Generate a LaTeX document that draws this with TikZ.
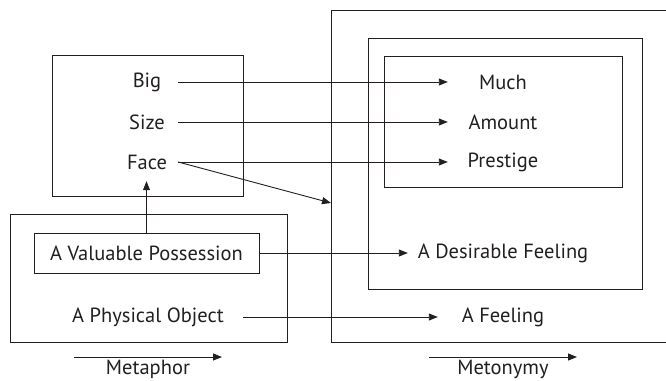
\documentclass[tikz,border=0pt]{standalone}
\usepackage{fontspec}
\setmainfont{PT Sans}
\usetikzlibrary{arrows.meta}
\definecolor{ink}{RGB}{35,31,32}
\begin{document}
\begin{tikzpicture}[x=1pt,y=-1pt,
  box/.style={draw=ink, line width=0.9pt},
  lbl/.style={font=\fontsize{20.5}{23}\selectfont, text=ink, inner sep=0pt},
  arr/.style={draw=ink, line width=0.9pt, -{Triangle[length=9pt,width=7pt]}}]
\useasboundingbox (0,0) rectangle (666,380);
% boxes
\draw[box] (52,55) rectangle (243,196);
\draw[box] (10,214) rectangle (287,342);
\draw[box] (666,10) -- (331,10) -- (331,342) -- (666,342);
\draw[box] (368,38) rectangle (642,289);
\draw[box] (384,56) rectangle (622,187);
\node[box, minimum width=225pt, minimum height=40pt, inner sep=0pt, font=\fontsize{20.5}{23}\selectfont, text=ink] (vp) at (146.5,253) {A Valuable Possession};
\coordinate (outerL) at (331,203);
% source labels
\node[lbl, minimum width=62pt, minimum height=38pt] (big) at (147,82) {Big};
\node[lbl, minimum width=62pt, minimum height=38pt] (size) at (147,122) {Size};
\node[lbl, minimum width=62pt, minimum height=38pt] (face) at (147,162) {Face};
\node[lbl, minimum width=190pt] (phys) at (148,317) {A Physical Object};
% target labels
\node[lbl, minimum width=110pt] (much) at (503,82) {Much};
\node[lbl, minimum width=110pt] (amount) at (503,122) {Amount};
\node[lbl, minimum width=110pt] (prestige) at (503,162) {Prestige};
\node[lbl, minimum width=190pt] (desir) at (503,253) {A Desirable Feeling};
\node[lbl, minimum width=130pt] (feel) at (503,317) {A Feeling};
% captions
\node[lbl, anchor=base] (metaphor) at (148,374) {Metaphor};
\node[lbl, anchor=base] (metonymy) at (503,374) {Metonymy};
\coordinate (mpa) at (74,357);
\coordinate (mpb) at (222,357);
\coordinate (mna) at (429,357);
\coordinate (mnb) at (577,357);
% connectors
\draw[arr] (big.east) -- (much.west);
\draw[arr] (size.east) -- (amount.west);
\draw[arr] (face.east) -- (prestige.west);
\draw[arr] (face.east) -- (outerL);
\draw[arr] (vp.north) -- (vp.north |- face.south);
\draw[arr] (vp.east) -- (desir.west);
\draw[arr] (phys.east) -- (feel.west);
\draw[arr] (mpa) -- (mpb);
\draw[arr] (mna) -- (mnb);
\end{tikzpicture}
\end{document}
